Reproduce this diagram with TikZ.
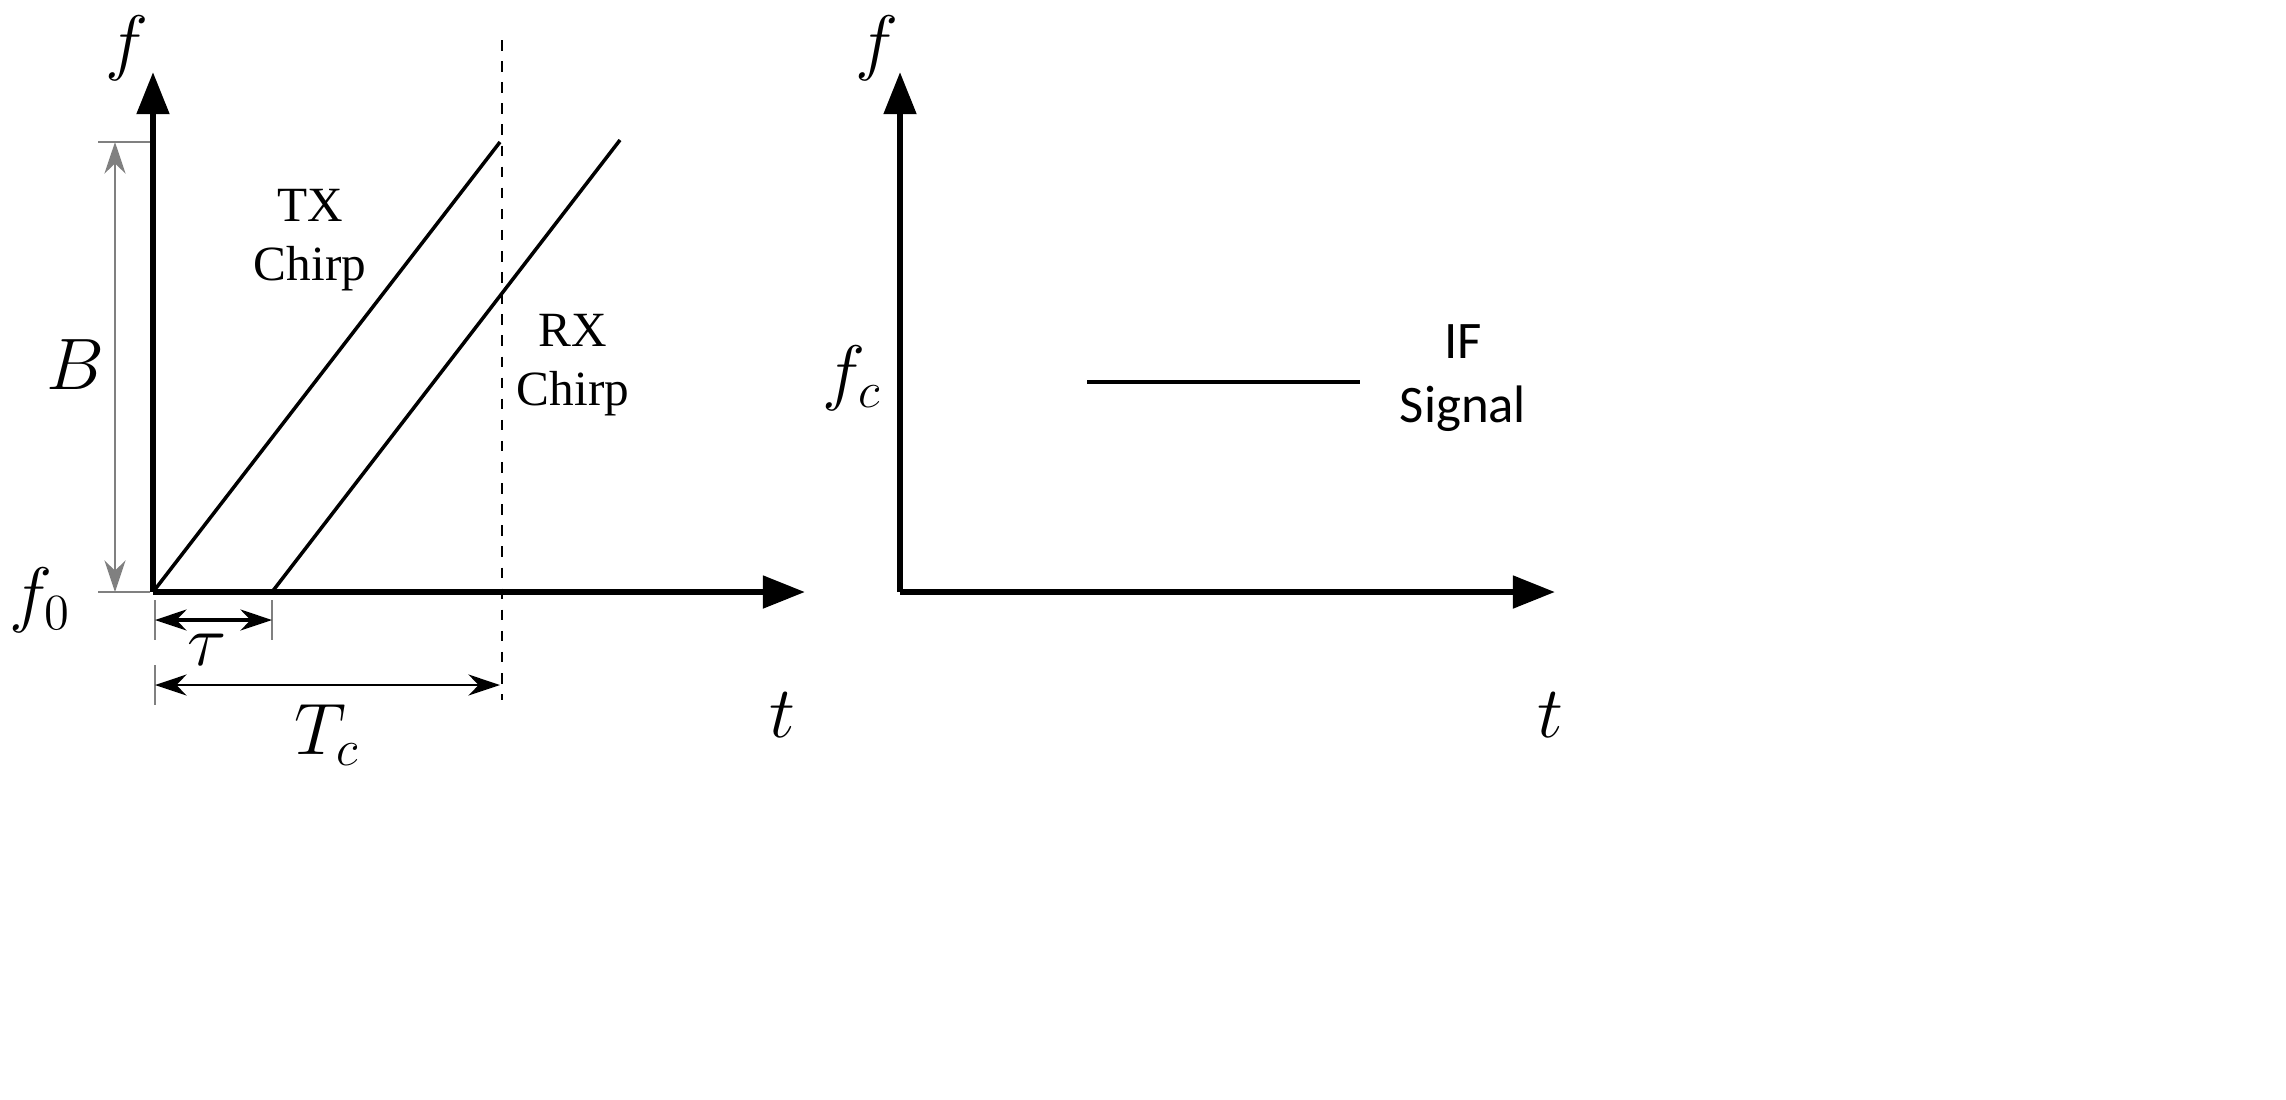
\documentclass[tikz,border=0pt]{standalone}
\usepackage{fontspec}
\setmainfont{Liberation Serif}
\newfontfamily\carlitofont{Carlito}
\usetikzlibrary{arrows.meta}
\begin{document}
\begin{tikzpicture}[x=0.01cm,y=-0.01cm,
  axis/.style={line width=1.8pt,-{Triangle[length=12pt,width=9pt]}},
  chirp/.style={line width=1pt},
  dim/.style={line width=0.5pt,{Stealth[length=9pt,width=6pt]}-{Stealth[length=9pt,width=6pt]}},
  tick/.style={line width=0.4pt,gray},
  lab/.style={font=\fontsize{14}{17}\selectfont,align=center},
  mlab/.style={font=\fontsize{22}{26}\selectfont}]
\useasboundingbox (0,0) rectangle (2286,1099);
% left
\coordinate (o1) at (153,592);
\coordinate (y1) at (153,72);
\coordinate (x1) at (805,592);
\draw[axis] (o1) -- (y1);
\draw[axis] (o1) -- (x1);
\coordinate (txe) at (500,142);
\coordinate (rxs) at (272,592);
\coordinate (rxe) at (620,140);
\draw[chirp] (o1) -- (txe);
\draw[chirp] (rxs) -- (rxe);
\coordinate (dt) at (502,40);
\coordinate (db) at (502,700);
\draw[dashed,line width=0.6pt] (dt) -- (db);
% B
\coordinate (bt) at (115,142);
\coordinate (bb) at (115,592);
\draw[tick] (98,142) -- (150,142);
\draw[tick] (98,592) -- (150,592);
\draw[dim,gray,line width=0.6pt] (bt) -- (bb);
% tau
\coordinate (ta) at (155,620);
\coordinate (tb) at (272,620);
\draw[tick] (155,600) -- (155,640);
\draw[tick] (272,600) -- (272,640);
\draw[dim,line width=0.9pt] (ta) -- (tb);
% Tc
\coordinate (ca) at (155,685);
\coordinate (cb) at (500,685);
\draw[tick] (155,665) -- (155,705);
\draw[dim,line width=0.6pt] (ca) -- (cb);
\node[mlab] (lf1) at (127,48) {$f$};
\node[mlab] (lB) at (75,365) {$B$};
\node[mlab] (lf0) at (40,600) {$f_0$};
\node[mlab] (ltau) at (207,650) {$\tau$};
\node[mlab] (lTc) at (327,735) {$T_c$};
\node[mlab] (lt1) at (782,715) {$t$};
\node[lab] (tx) at (310,240) {TX\\Chirp};
\node[lab] (rx) at (573,365) {RX\\Chirp};
% right
\coordinate (o2) at (900,592);
\coordinate (y2) at (900,72);
\coordinate (x2) at (1555,592);
\draw[axis] (o2) -- (y2);
\draw[axis] (o2) -- (x2);
\coordinate (ifa) at (1087,382);
\coordinate (ifb) at (1360,382);
\draw[chirp] (ifa) -- (ifb);
\node[mlab] (lf2) at (877,48) {$f$};
\node[mlab] (lfc) at (852,378) {$f_c$};
\node[mlab] (lt2) at (1550,715) {$t$};
\node[lab,font=\carlitofont\fontsize{15}{18}\selectfont] (ifl) at (1463,378) {IF\\Signal};
\end{tikzpicture}
\end{document}
